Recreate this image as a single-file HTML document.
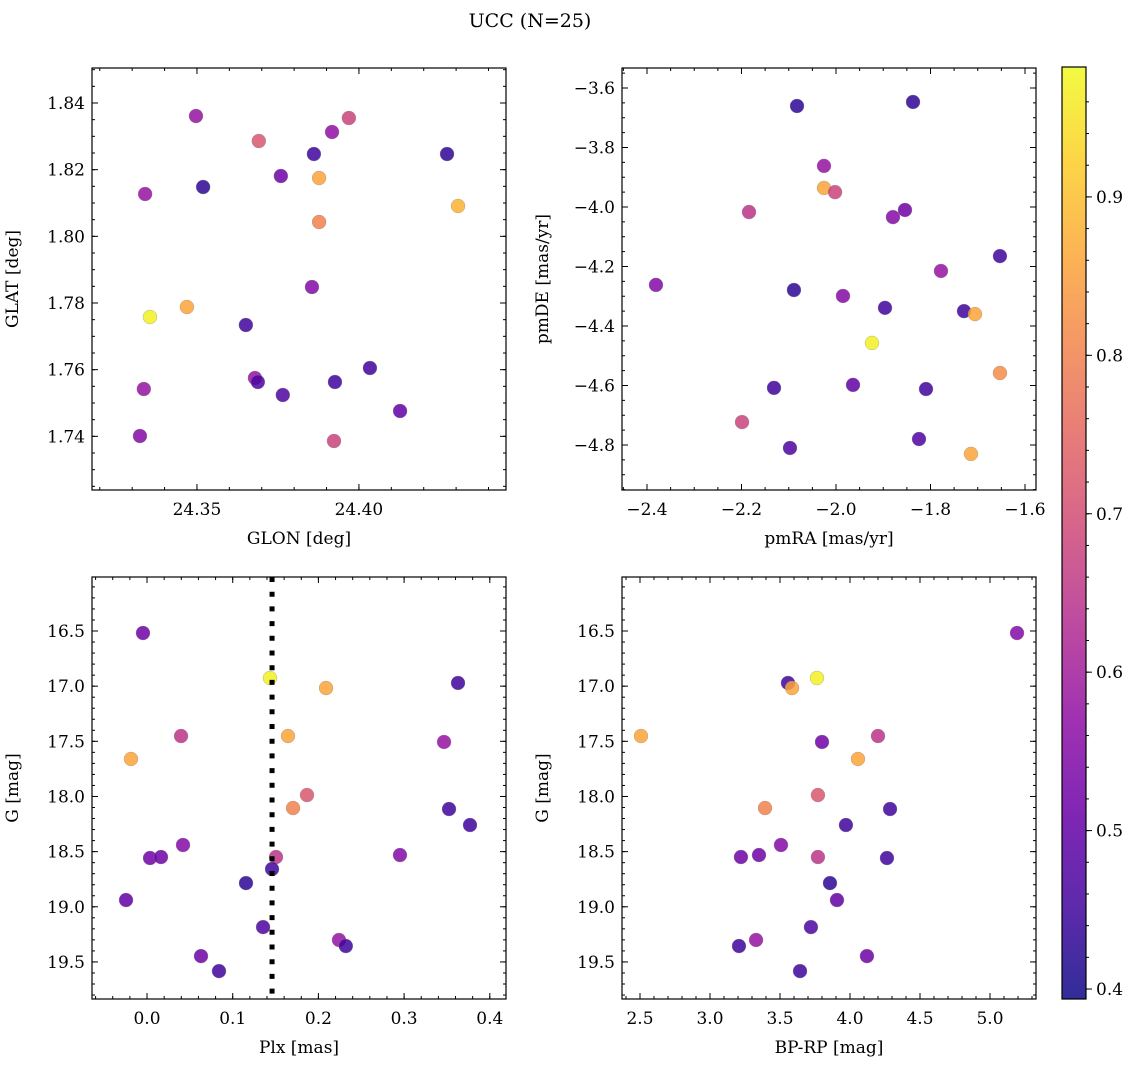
<!DOCTYPE html>
<html><head><meta charset="utf-8"><style>
html,body{margin:0;padding:0;background:#fff;}
svg{display:block;font-family:"DejaVu Serif","Liberation Serif",serif;}
</style></head><body>
<svg id="fig" width="1136" height="1067" viewBox="0 0 1136 1067" xmlns="http://www.w3.org/2000/svg">
<text x="530" y="27" font-size="19" text-anchor="middle">UCC (N=25)</text>
</svg>
<script>
// ---- data ----
const glon=[24.3497,24.3691,24.3969,24.3917,24.3861,24.4272,24.3340,24.3519,24.3759,24.3877,24.3877,24.4306,24.3855,24.3355,24.3469,24.3651,24.3679,24.3688,24.3765,24.3926,24.4034,24.3336,24.4127,24.3324,24.3923];
const glat=[1.8361,1.8286,1.8355,1.8313,1.8247,1.8247,1.8127,1.8148,1.8181,1.8175,1.8043,1.8091,1.7848,1.7758,1.7788,1.7734,1.7575,1.7563,1.7524,1.7563,1.7605,1.7542,1.7476,1.7401,1.7386];
const probA=[0.58,0.72,0.68,0.57,0.45,0.43,0.58,0.43,0.52,0.86,0.80,0.88,0.55,0.97,0.86,0.45,0.58,0.47,0.47,0.45,0.45,0.58,0.50,0.55,0.68];
const pmra=[-2.0825,-1.837,-2.0254,-2.0254,-2.002,-2.1841,-1.8794,-1.854,-1.653,-1.7778,-2.381,-2.089,-1.9852,-1.8963,-1.7291,-1.7058,-1.9238,-1.653,-2.1312,-1.964,-1.8095,-2.1989,-1.8243,-2.0974,-1.7143];
const pmde=[-3.6605,-3.647,-3.862,-3.936,-3.950,-4.017,-4.034,-4.010,-4.165,-4.215,-4.262,-4.279,-4.299,-4.339,-4.350,-4.360,-4.457,-4.558,-4.608,-4.598,-4.612,-4.723,-4.780,-4.810,-4.830];
const probB=[0.43,0.43,0.58,0.86,0.68,0.65,0.55,0.52,0.45,0.58,0.55,0.43,0.55,0.45,0.45,0.86,0.97,0.82,0.45,0.50,0.45,0.68,0.47,0.47,0.86];
const plx=[-0.0047,0.1435,0.2089,0.3629,0.0397,-0.0187,0.1645,0.3466,0.1867,0.1704,0.3524,0.3769,0.0420,0.0035,0.0163,0.2952,0.1505,0.1459,0.1155,-0.0245,0.1354,0.2240,0.2320,0.0630,0.0840];
const gmagC=[16.518,16.926,17.017,16.971,17.452,17.660,17.452,17.506,17.987,18.105,18.114,18.259,18.440,18.558,18.549,18.531,18.549,18.658,18.785,18.939,19.184,19.301,19.356,19.447,19.583];
const probC=[0.52,0.97,0.86,0.45,0.65,0.86,0.86,0.58,0.72,0.80,0.45,0.45,0.55,0.52,0.52,0.55,0.65,0.45,0.43,0.50,0.47,0.58,0.45,0.52,0.45];
const bprp=[5.193,3.764,3.557,3.586,2.507,4.200,3.800,4.057,3.771,3.393,4.286,3.971,3.507,3.221,3.350,3.771,4.264,3.857,3.907,3.721,3.329,3.207,4.121,3.643];
const gmagD=[16.518,16.926,16.971,17.017,17.452,17.452,17.506,17.660,17.987,18.105,18.114,18.259,18.440,18.549,18.531,18.549,18.558,18.785,18.939,19.184,19.301,19.356,19.447,19.583];
const probD=[0.55,0.97,0.45,0.86,0.86,0.65,0.52,0.86,0.72,0.80,0.45,0.45,0.55,0.52,0.52,0.65,0.45,0.43,0.50,0.47,0.58,0.45,0.52,0.45];
const plxLine=0.1459;
const cbTicks=[0.4,0.5,0.6,0.7,0.8,0.9];
const cMin=0.3937, cMax=0.982;

const NS="http://www.w3.org/2000/svg";
const svg=document.getElementById('fig');
function mk(tag,attrs,parent){const e=document.createElementNS(NS,tag);for(const k in attrs)e.setAttribute(k,attrs[k]);(parent||svg).appendChild(e);return e;}
const stops=["#0d0887","#41049d","#6a00a8","#8f0da4","#b12a90","#cc4778","#e16462","#f2844b","#fca636","#fcce25","#f0f921"];
function hex(h){return [parseInt(h.substr(1,2),16),parseInt(h.substr(3,2),16),parseInt(h.substr(5,2),16)];}
function plasma(t){t=Math.max(0,Math.min(1,t));const p=t*10,i=Math.min(9,Math.floor(p)),f=p-i;const a=hex(stops[i]),b=hex(stops[i+1]);return 'rgb('+a.map((v,k)=>Math.round(v+(b[k]-v)*f)).join(',')+')';}
function cmap(v){return plasma((v-cMin)/(cMax-cMin));}
function fmt(v,d){let s=v.toFixed(d);if(v<-1e-9)s='\u2212'+s.substr(1);return s;}

function panel(o){
  const g=mk('g',{});
  
  
  const X=v=>o.x0+(v-o.xr[0])/(o.xr[1]-o.xr[0])*(o.x1-o.x0);
  const Y=v=>o.y0+(o.yr[0]-v)/(o.yr[0]-o.yr[1])*(o.y1-o.y0);
  for(let i=0;i<o.xs.length;i++){
    const c=mk('circle',{cx:X(o.xs[i]),cy:Y(o.ys[i]),r:7,fill:cmap(o.cs[i]),'fill-opacity':0.85,stroke:'#888','stroke-width':0.5,'stroke-opacity':0.6},g);
    
    
  }
  if(o.vline!==undefined){
    const l=mk('line',{x1:X(o.vline),x2:X(o.vline),y1:o.y0,y2:o.y1,stroke:'#000','stroke-width':5,'stroke-dasharray':'5,9.7'},g);
    
    
  }
  const tk=(vals,len,axis)=>{vals.forEach(v=>{
    if(axis==='x'){const x=X(v);if(x<o.x0-0.5||x>o.x1+0.5)return;
      mk('line',{x1:x,x2:x,y1:o.y1,y2:o.y1-len,stroke:'#000','stroke-width':1},g);
      mk('line',{x1:x,x2:x,y1:o.y0,y2:o.y0+len,stroke:'#000','stroke-width':1},g);}
    else{const y=Y(v);if(y<o.y0-0.5||y>o.y1+0.5)return;
      mk('line',{x1:o.x0,x2:o.x0+len,y1:y,y2:y,stroke:'#000','stroke-width':1},g);
      mk('line',{x1:o.x1,x2:o.x1-len,y1:y,y2:y,stroke:'#000','stroke-width':1},g);}
  });};
  const range=(a,b,s)=>{const r=[];for(let v=Math.ceil(a/s-1e-6)*s;v<=b+1e-9;v+=s)r.push(+v.toFixed(6));return r;};
  const xmn=Math.min(...o.xr),xmx=Math.max(...o.xr),ymn=Math.min(...o.yr),ymx=Math.max(...o.yr);
  tk(range(xmn,xmx,o.xminor),3,'x');tk(range(xmn,xmx,o.xmajor),6,'x');
  tk(range(ymn,ymx,o.yminor),3,'y');tk(range(ymn,ymx,o.ymajor),6,'y');
  range(xmn,xmx,o.xmajor).forEach(v=>{const t=mk('text',{x:X(v),y:o.y1+25,'font-size':17,'text-anchor':'middle'},g);t.textContent=fmt(v,o.xd);
    });
  range(ymn,ymx,o.ymajor).forEach(v=>{const t=mk('text',{x:o.x0-7,y:Y(v)+6,'font-size':17,'text-anchor':'end'},g);t.textContent=fmt(v,o.yd);
    });
  const fr=mk('rect',{x:o.x0,y:o.y0,width:o.x1-o.x0,height:o.y1-o.y0,fill:'none',stroke:'#000','stroke-width':1.2},g);
  
  const xl=mk('text',{x:(o.x0+o.x1)/2,y:o.y1+54,'font-size':17,'text-anchor':'middle'},g);xl.textContent=o.xlabel;
  
  const yx=o.x0-74,yc=(o.y0+o.y1)/2;
  const yl=mk('text',{x:yx,y:yc,'font-size':17,'text-anchor':'middle',transform:'rotate(-90 '+yx+' '+yc+')'},g);yl.textContent=o.ylabel;
  
}

panel({name:'glon-glat-panel',x0:92,x1:506,y0:68,y1:490,xr:[24.3176,24.4454],yr:[1.8505,1.7239],xs:glon,ys:glat,cs:probA,xmajor:0.05,xminor:0.01,ymajor:0.02,yminor:0.005,xd:2,yd:2,xlabel:'GLON [deg]',ylabel:'GLAT [deg]'});
panel({name:'proper-motion-panel',x0:622,x1:1036,y0:68,y1:490,xr:[-2.4529,-1.5767],yr:[-3.5328,-4.9513],xs:pmra,ys:pmde,cs:probB,xmajor:0.2,xminor:0.05,ymajor:0.2,yminor:0.05,xd:1,yd:1,xlabel:'pmRA [mas/yr]',ylabel:'pmDE [mas/yr]'});
panel({name:'plx-g-panel',x0:92,x1:506,y0:577,y1:999,xr:[-0.0642,0.4189],yr:[16.0104,19.836],xs:plx,ys:gmagC,cs:probC,vline:plxLine,xmajor:0.1,xminor:0.02,ymajor:0.5,yminor:0.1,xd:1,yd:1,xlabel:'Plx [mas]',ylabel:'G [mag]'});
panel({name:'cmd-panel',x0:622,x1:1036,y0:577,y1:999,xr:[2.3714,5.3286],yr:[16.0104,19.836],xs:bprp,ys:gmagD,cs:probD,xmajor:0.5,xminor:0.1,ymajor:0.5,yminor:0.1,xd:1,yd:1,xlabel:'BP-RP [mag]',ylabel:'G [mag]'});

const cb=mk('g',{});


const cx0=1062,cx1=1086,cy0=67,cy1=999;
const defs=mk('defs',{},cb);
const lg=mk('linearGradient',{id:'cbg',x1:0,y1:1,x2:0,y2:0},defs);
for(let i=0;i<=20;i++){mk('stop',{offset:(i/20),'stop-color':plasma(i/20),'stop-opacity':0.85},lg);}
mk('rect',{x:cx0,y:cy0,width:cx1-cx0,height:cy1-cy0,fill:'url(#cbg)',stroke:'#000','stroke-width':1.2},cb);
const CY=v=>cy1-(v-cMin)/(cMax-cMin)*(cy1-cy0);
for(let v=0.40;v<=0.98;v+=0.02){const y=CY(v);mk('line',{x1:cx1,x2:cx1+3,y1:y,y2:y,stroke:'#000'},cb);}
cbTicks.forEach(v=>{const y=CY(v);mk('line',{x1:cx1,x2:cx1+6,y1:y,y2:y,stroke:'#000'},cb);
  const t=mk('text',{x:cx1+10,y:y+6,'font-size':17},cb);t.textContent=v.toFixed(1);
  });
</script>
</body></html>
